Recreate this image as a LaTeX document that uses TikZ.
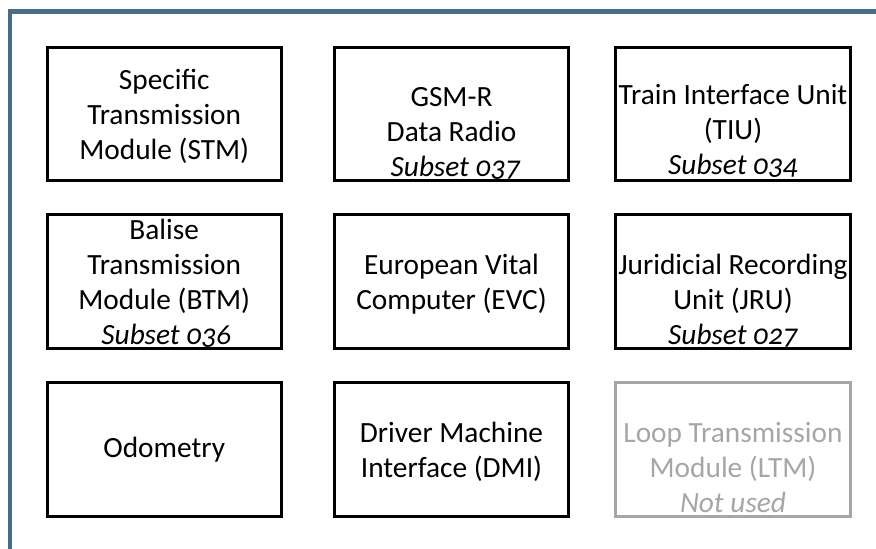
\documentclass[tikz,border=0pt]{standalone}
\usepackage{fontspec}
\setmainfont{Carlito}[Numbers=OldStyle]
\definecolor{framecol}{RGB}{72,107,137}
\definecolor{unusedcol}{RGB}{166,166,166}
\newcommand\stacklines[1]{\vtop{\baselineskip=26.25pt\halign{\hfil##\hfil\cr#1\crcr}}}
\begin{document}
\begin{tikzpicture}[x=0.75pt,y=0.75pt,yscale=-1,xscale=1,
  unitbox/.style={line width=2.25pt},
  unitlabel/.style={anchor=base,inner sep=0pt,font=\fontsize{22}{26.25}\selectfont}]
\useasboundingbox (0,0) rectangle (876,549);

%Straight Lines: frame
\draw [color=framecol, line width=3.4pt] (876,11.5) -- (9.8,11.5) -- (9.8,549) ;

%Shape: Rectangle [STM]
\draw [unitbox] (47,47.5) rectangle (281.5,180.5) ;
%Shape: Rectangle [GSM-R]
\draw [unitbox] (334.5,47.5) rectangle (568.5,180.5) ;
%Shape: Rectangle [TIU]
\draw [unitbox] (615.5,47.5) rectangle (850.5,180.5) ;
%Shape: Rectangle [BTM]
\draw [unitbox] (47,214.5) rectangle (281.5,348.5) ;
%Shape: Rectangle [EVC]
\draw [unitbox] (334.5,214.5) rectangle (568.5,348.5) ;
%Shape: Rectangle [JRU]
\draw [unitbox] (615.5,214.5) rectangle (850.5,348.5) ;
%Shape: Rectangle [Odometry]
\draw [unitbox] (47,382.5) rectangle (281.5,516.5) ;
%Shape: Rectangle [DMI]
\draw [unitbox] (334.5,382.5) rectangle (568.5,516.5) ;
%Shape: Rectangle [LTM]
\draw [unitbox, color=unusedcol] (615.5,382.5) rectangle (850.5,516.5) ;

% Text Node
\draw (164.25,90) node [unitlabel] (stm) {\stacklines{Specific\cr Transmission\cr Module (STM)}};
% Text Node
\draw (451.5,107) node [unitlabel] (gsmr) {\stacklines{GSM-R\cr Data Radio\cr \hspace{6pt}\itshape Subset 037}};
% Text Node
\draw (733,105) node [unitlabel] (tiu) {\stacklines{Train Interface Unit\cr (TIU)\cr \itshape Subset 034}};
% Text Node
\draw (164.25,240) node [unitlabel] (btm) {\stacklines{Balise\cr Transmission\cr Module (BTM)\cr \hspace{3pt}\itshape Subset 036}};
% Text Node
\draw (451.5,275) node [unitlabel] (evc) {\stacklines{European Vital\cr Computer (EVC)}};
% Text Node
\draw (733,275) node [unitlabel] (jru) {\stacklines{Juridicial Recording\cr Unit (JRU)\cr \itshape Subset 027}};
% Text Node
\draw (164.25,457) node [unitlabel] (odo) {Odometry};
% Text Node
\draw (451.5,443) node [unitlabel] (dmi) {\stacklines{Driver Machine\cr Interface (DMI)}};
% Text Node
\draw (733,443) node [unitlabel, text=unusedcol] (ltm) {\stacklines{Loop Transmission\cr Module (LTM)\cr \itshape Not used}};

\end{tikzpicture}
\end{document}
